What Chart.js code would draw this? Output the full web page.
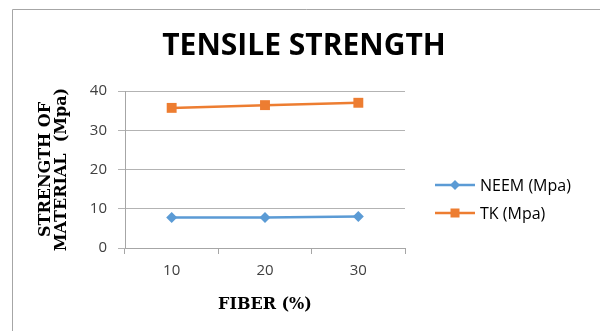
<!DOCTYPE html>
<html>
<head>
<meta charset="utf-8">
<script src="https://cdn.jsdelivr.net/npm/chart.js@4.4.1/dist/chart.umd.min.js"></script>
<style>
  html, body { margin: 0; padding: 0; background: #ffffff; }
  #wrap { position: relative; width: 600px; height: 331px; }
</style>
</head>
<body>
<div id="wrap"><canvas id="chart" width="600" height="331"></canvas></div>
<script>
// Fiber content (%) on the category axis
const fiberPct = ['10', '20', '30'];
// Tensile strength values (MPa)
const neemMpa = [7.8, 7.8, 8.0];
const tkMpa = [35.7, 36.4, 37.0];
// Value axis range
const yMin = 0;
const yMax = 40;
const yStep = 10;

const chartTitle = 'TENSILE STRENGTH';
const xTitle = 'FIBER (%)';
const yTitle = ['STRENGTH OF', 'MATERIAL  (Mpa)'];
const seriesNames = ['NEEM (Mpa)', 'TK (Mpa)'];

const AXIS_GREY = '#a6a6a6';
const LABEL_GREY = '#404040';
const sansFont = "'Open Sans', 'DejaVu Sans', sans-serif";
const serifFont = "'DejaVu Serif', 'Liberation Serif', serif";

// Outer frame, main heading and a line+marker legend at the right
const decorations = {
  id: 'decorations',
  beforeDraw(chart) {
    const ctx = chart.ctx;
    ctx.save();
    ctx.strokeStyle = AXIS_GREY;
    ctx.lineWidth = 1;
    ctx.beginPath();
    ctx.moveTo(12.5, 331);
    ctx.lineTo(12.5, 9.5);
    ctx.lineTo(600, 9.5);
    ctx.stroke();
    ctx.restore();
  },
  afterDraw(chart) {
    const ctx = chart.ctx;
    ctx.save();
    ctx.fillStyle = '#000000';
    ctx.font = "bold 30px " + sansFont;
    ctx.textAlign = 'center';
    ctx.textBaseline = 'middle';
    ctx.fillText(chartTitle, 304, 46);

    const rows = [185, 213];
    chart.data.datasets.forEach((ds, i) => {
      const y = rows[i];
      ctx.strokeStyle = ds.borderColor;
      ctx.lineWidth = ds.borderWidth;
      ctx.beginPath();
      ctx.moveTo(435, y);
      ctx.lineTo(475, y);
      ctx.stroke();
      ctx.fillStyle = ds.backgroundColor;
      const r = ds.pointStyle === 'rect' ? 4.5 : 5;
      ctx.beginPath();
      if (ds.pointStyle === 'rect') {
        ctx.rect(455 - r, y - r, 2 * r, 2 * r);
      } else {
        ctx.moveTo(455, y - r);
        ctx.lineTo(455 + r, y);
        ctx.lineTo(455, y + r);
        ctx.lineTo(455 - r, y);
        ctx.closePath();
      }
      ctx.fill();
      ctx.fillStyle = '#000000';
      ctx.font = "16px " + sansFont;
      ctx.textAlign = 'left';
      ctx.textBaseline = 'middle';
      ctx.fillText(ds.label, 480, y + 1);
    });
    ctx.restore();
  }
};

new Chart(document.getElementById('chart'), {
  type: 'line',
  data: {
    labels: fiberPct,
    datasets: [
      {
        label: seriesNames[0],
        data: neemMpa,
        borderColor: '#5b9bd5',
        backgroundColor: '#5b9bd5',
        borderWidth: 2.5,
        pointStyle: 'rectRot',
        pointRadius: 5.5,
        pointHoverRadius: 5.5,
        pointBorderWidth: 0,
        tension: 0
      },
      {
        label: seriesNames[1],
        data: tkMpa,
        borderColor: '#ed7d31',
        backgroundColor: '#ed7d31',
        borderWidth: 2.5,
        pointStyle: 'rect',
        pointRadius: 7,
        pointHoverRadius: 7,
        pointBorderWidth: 0,
        tension: 0
      }
    ]
  },
  options: {
    responsive: false,
    animation: false,
    events: [],
    layout: { padding: { left: 0, right: 195, top: 91, bottom: 0 } },
    plugins: {
      legend: { display: false },
      title: { display: false },
      tooltip: { enabled: false }
    },
    scales: {
      x: {
        type: 'category',
        offset: true,
        afterFit(scale) { scale.height = 83; },
        grid: {
          offset: true,
          drawOnChartArea: false,
          drawTicks: true,
          tickLength: 6,
          color: AXIS_GREY
        },
        border: { display: true, color: AXIS_GREY },
        ticks: {
          color: LABEL_GREY,
          padding: 8,
          font: { family: sansFont, size: 15 }
        },
        title: {
          display: true,
          text: xTitle,
          color: '#000000',
          font: { family: serifFont, size: 16, weight: 'bold', lineHeight: 1.2 },
          padding: { top: 0, bottom: 17 }
        }
      },
      y: {
        min: yMin,
        max: yMax,
        afterFit(scale) { scale.width = 125; },
        ticks: {
          stepSize: yStep,
          color: LABEL_GREY,
          padding: 11,
          font: { family: sansFont, size: 15 }
        },
        grid: {
          color: '#b3b3b3',
          drawTicks: true,
          tickLength: 7
        },
        border: { display: true, color: AXIS_GREY },
        title: {
          display: true,
          text: yTitle,
          color: '#000000',
          font: { family: serifFont, size: 16, weight: 'bold', lineHeight: 1.0 },
          padding: { top: 38, bottom: 0 }
        }
      }
    }
  },
  plugins: [decorations]
});
</script>
</body>
</html>
